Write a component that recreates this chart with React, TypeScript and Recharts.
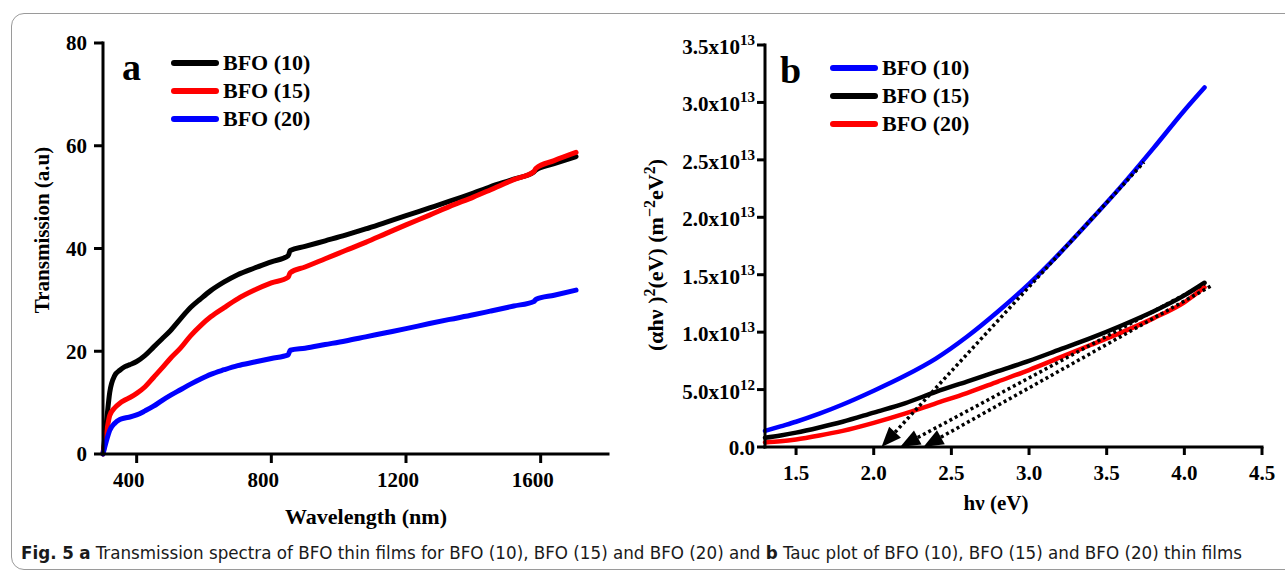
import { LineChart, Line, XAxis, YAxis, Legend, ReferenceLine, Label } from 'recharts';

// panel a: transmission spectra
const wavelength = [300, 310, 320, 335, 350, 365, 380, 400, 425, 450, 475, 500, 530, 560, 590, 620, 660, 700, 750, 800, 850, 856, 900, 960, 1020, 1080, 1140, 1200, 1270, 1330, 1400, 1450, 1520, 1580, 1586, 1640, 1705];
const trans10 = [0, 6, 12, 15.3, 16.3, 17.0, 17.4, 18.0, 19.2, 20.8, 22.4, 24.0, 26.3, 28.5, 30.2, 31.8, 33.5, 34.9, 36.2, 37.4, 38.6, 39.6, 40.4, 41.5, 42.6, 43.8, 45.1, 46.4, 47.9, 49.2, 50.8, 52.0, 53.5, 54.9, 55.3, 56.5, 57.9];
const trans15 = [0, 4, 7.5, 9.0, 9.9, 10.5, 11.0, 11.8, 13.1, 14.9, 16.7, 18.6, 20.6, 23.0, 25.0, 26.7, 28.5, 30.2, 31.9, 33.3, 34.4, 35.3, 36.4, 38.0, 39.6, 41.2, 42.9, 44.6, 46.5, 48.2, 50.0, 51.4, 53.4, 55.0, 55.6, 57.1, 58.7];
const trans20 = [0, 2.5, 4.6, 6.0, 6.7, 7.0, 7.2, 7.6, 8.4, 9.3, 10.4, 11.4, 12.5, 13.6, 14.6, 15.5, 16.4, 17.2, 17.9, 18.6, 19.3, 20.2, 20.6, 21.3, 22.0, 22.8, 23.6, 24.4, 25.4, 26.2, 27.1, 27.8, 28.8, 29.7, 30.1, 30.9, 31.9];
const wavelengthTicks = [400, 800, 1200, 1600];
const transTicks = [0, 20, 40, 60, 80];

// panel b: Tauc plot
const photonEnergy = [1.3, 1.4, 1.5, 1.65, 1.8, 2.0, 2.2, 2.4, 2.6, 2.8, 3.0, 3.2, 3.4, 3.6, 3.8, 4.0, 4.13];
const tauc10 = [1.4e12, 1.8e12, 2.2e12, 2.9e12, 3.7e12, 4.9e12, 6.2e12, 7.7e12, 9.6e12, 1.18e13, 1.42e13, 1.69e13, 1.98e13, 2.28e13, 2.6e13, 2.93e13, 3.13e13];
const tauc15 = [0.8e12, 1.0e12, 1.25e12, 1.7e12, 2.2e12, 3.0e12, 3.8e12, 4.8e12, 5.7e12, 6.6e12, 7.5e12, 8.5e12, 9.5e12, 1.06e13, 1.18e13, 1.32e13, 1.43e13];
const tauc20 = [0.4e12, 0.5e12, 0.66e12, 1.0e12, 1.4e12, 2.1e12, 2.9e12, 3.8e12, 4.7e12, 5.7e12, 6.7e12, 7.8e12, 8.9e12, 1.0e13, 1.12e13, 1.26e13, 1.39e13];
const energyTicks = [1.5, 2.0, 2.5, 3.0, 3.5, 4.0, 4.5];
const taucTicks = [0, 5e12, 1e13, 1.5e13, 2e13, 2.5e13, 3e13, 3.5e13];

// extrapolated tangents (foot on the energy axis -> upper end)
const tangentFoot = [2.05, 2.17, 2.32];
const tangentTopX = [3.74, 4.13, 4.17];
const tangentTopY = [2.48e13, 1.42e13, 1.4e13];

const transData = wavelength.map((w, i) => ({ w, b10: trans10[i], b15: trans15[i], b20: trans20[i] }));
const taucData = photonEnergy.map((e, i) => ({ e, b10: tauc10[i], b15: tauc15[i], b20: tauc20[i] }));

const serif = '"Liberation Serif", "Times New Roman", serif';
const tickStyle = { fill: '#000', fontSize: 21, fontWeight: 700, fontFamily: serif };
const axisLine = { stroke: '#000', strokeWidth: 3, strokeLinecap: 'square' as const };
const tickLine = { stroke: '#000', strokeWidth: 3 };

const makeLegend = (tag: string, order: string[], tagLeft: number, tagTop: number) => (props: any) => {
  const items = [...(props.payload || [])].sort((a: any, b: any) => order.indexOf(a.value) - order.indexOf(b.value));
  return (
    <div style={{ position: 'relative', fontFamily: serif, fontWeight: 700, color: '#000' }}>
      <span style={{ position: 'absolute', left: tagLeft, top: tagTop, fontSize: 38, lineHeight: '38px' }}>{tag}</span>
      {items.map((it: any) => (
        <div key={it.value} style={{ display: 'flex', alignItems: 'center', height: 28 }}>
          <span style={{ display: 'inline-block', width: 48, height: 6, borderRadius: 3, background: it.color }} />
          <span style={{ marginLeft: 4, fontSize: 22, lineHeight: '28px' }}>{it.value}</span>
        </div>
      ))}
    </div>
  );
};

const TaucTick = (props: any) => {
  const { x, y, payload } = props;
  const v = payload.value as number;
  if (v === 0) {
    return <text x={x} y={y} dy={8} textAnchor="end" style={tickStyle}>0.0</text>;
  }
  const exp = Math.floor(Math.log10(v) + 1e-9);
  const mant = (v / Math.pow(10, exp)).toFixed(1);
  return (
    <text x={x} y={y} dy={9} textAnchor="end" style={tickStyle}>
      {mant}x10<tspan dy={-9} fontSize={15}>{exp}</tspan>
    </text>
  );
};

const TangentArrow = (props: any) => {
  const { x1, y1, x2, y2 } = props;
  const dx = x2 - x1;
  const dy = y2 - y1;
  const len = Math.hypot(dx, dy) || 1;
  const ux = dx / len;
  const uy = dy / len;
  const head = 20;
  const half = 8;
  const bx = x1 + ux * head;
  const by = y1 + uy * head;
  const pts = `${x1},${y1} ${bx - uy * half},${by + ux * half} ${bx + uy * half},${by - ux * half}`;
  return (
    <g>
      <line x1={bx} y1={by} x2={x2} y2={y2} stroke="#000" strokeWidth={3.5} strokeDasharray="3 3" />
      <polygon points={pts} fill="#000" />
    </g>
  );
};

const TransmissionChart = () => (
  <LineChart width={640} height={540} data={transData} margin={{ top: 43, right: 32, bottom: 0, left: 0 }}>
    <XAxis dataKey="w" type="number" domain={[300, 1800]} ticks={wavelengthTicks} height={86}
      axisLine={axisLine} tickLine={tickLine} tickSize={9} tickMargin={9} tick={{ ...tickStyle, dx: -8 }}>
      <Label content={() => (
        <text x={366} y={524} textAnchor="middle" style={{ ...tickStyle, fontSize: 22 }}>Wavelength (nm)</text>
      )} />
    </XAxis>
    <XAxis xAxisId="t" orientation="top" type="number" domain={[300, 1800]} height={0} tick={false} tickLine={false} axisLine={axisLine} />
    <YAxis type="number" domain={[0, 80]} ticks={transTicks} width={103}
      axisLine={axisLine} tickLine={tickLine} tickSize={9} tickMargin={7} tick={tickStyle}>
      <Label content={() => (
        <text x={49} y={230} transform="rotate(-90 49 230)" textAnchor="middle" style={{ ...tickStyle, fontSize: 21 }}>Transmission (a.u)</text>
      )} />
    </YAxis>
    <YAxis yAxisId="r" orientation="right" type="number" domain={[0, 80]} width={0} tick={false} tickLine={false} axisLine={axisLine} />
    <Legend layout="vertical" align="center" verticalAlign="middle"
      wrapperStyle={{ left: 171, top: 49, width: 200 }}
      content={makeLegend('a', ['BFO (10)', 'BFO (15)', 'BFO (20)'], -49, -1)} />
    <Line dataKey="b10" name="BFO (10)" type="monotone" stroke="#000000" strokeWidth={5} strokeLinecap="round" dot={false} isAnimationActive={false} />
    <Line dataKey="b15" name="BFO (15)" type="monotone" stroke="#ff0000" strokeWidth={5} strokeLinecap="round" dot={false} isAnimationActive={false} />
    <Line dataKey="b20" name="BFO (20)" type="monotone" stroke="#0000ff" strokeWidth={5} strokeLinecap="round" dot={false} isAnimationActive={false} />
  </LineChart>
);

const TaucChart = () => (
  <LineChart width={645} height={540} data={taucData} margin={{ top: 45, right: 23, bottom: 0, left: 0 }}>
    <XAxis dataKey="e" type="number" domain={[1.3, 4.5]} ticks={energyTicks} height={93}
      axisLine={axisLine} tickLine={tickLine} tickSize={8} tickMargin={10} tick={tickStyle}
      tickFormatter={(v: number) => v.toFixed(1)}>
      <Label content={() => (
        <text x={356} y={510} textAnchor="middle" style={{ ...tickStyle, fontSize: 21 }}>hν (eV)</text>
      )} />
    </XAxis>
    <XAxis xAxisId="t" orientation="top" type="number" domain={[1.3, 4.5]} height={0} tick={false} tickLine={false} axisLine={axisLine} />
    <YAxis type="number" domain={[0, 3.5e13]} ticks={taucTicks} width={125}
      axisLine={axisLine} tickLine={tickLine} tickSize={8} tickMargin={2} tick={<TaucTick />}>
      <Label content={() => (
        <text x={23} y={255} transform="rotate(-90 23 255)" textAnchor="middle" style={{ ...tickStyle, fontSize: 22 }}>
          (αhν )<tspan dy={-8} fontSize={16}>2</tspan><tspan dy={8}>(eV) (m</tspan><tspan dy={-8} fontSize={16}>−2</tspan><tspan dy={8}>eV</tspan><tspan dy={-8} fontSize={16}>2</tspan><tspan dy={8}>)</tspan>
        </text>
      )} />
    </YAxis>
    <YAxis yAxisId="r" orientation="right" type="number" domain={[0, 3.5e13]} width={0} tick={false} tickLine={false} axisLine={axisLine} />
    <Legend layout="vertical" align="center" verticalAlign="middle"
      wrapperStyle={{ left: 190, top: 54, width: 200 }}
      content={makeLegend('b', ['BFO (10)', 'BFO (15)', 'BFO (20)'], -50, -3)} />
    <Line dataKey="b10" name="BFO (10)" type="monotone" stroke="#0000ff" strokeWidth={4.5} strokeLinecap="round" dot={false} isAnimationActive={false} />
    <Line dataKey="b15" name="BFO (15)" type="monotone" stroke="#000000" strokeWidth={4.5} strokeLinecap="round" dot={false} isAnimationActive={false} />
    <Line dataKey="b20" name="BFO (20)" type="monotone" stroke="#ff0000" strokeWidth={4.5} strokeLinecap="round" dot={false} isAnimationActive={false} />
    {tangentFoot.map((foot, i) => (
      <ReferenceLine key={i} ifOverflow="visible"
        segment={[{ x: foot, y: 0 }, { x: tangentTopX[i], y: tangentTopY[i] }]}
        shape={TangentArrow} />
    ))}
  </LineChart>
);

export default function App() {
  return (
    <div style={{ position: 'absolute', left: 0, top: 0, width: 1285, height: 576, background: '#fff', overflow: 'hidden' }}>
      <div style={{ position: 'absolute', left: 11, top: 13, width: 1300, height: 555, border: '1.5px solid #9a9a9a', borderRadius: 13 }} />
      <div style={{ position: 'absolute', left: 0, top: 0 }}>
        <TransmissionChart />
      </div>
      <div style={{ position: 'absolute', left: 640, top: 0 }}>
        <TaucChart />
      </div>
      <svg style={{ position: 'absolute', left: 0, top: 536 }} width={1285} height={36}>
        <text x={21} y={23} textLength={1221} lengthAdjust="spacingAndGlyphs"
          style={{ fontFamily: '"Liberation Sans Narrow", "DejaVu Sans Condensed", "Liberation Sans", sans-serif', fontSize: 17, fill: '#1a1a1a' }}>
          <tspan fontWeight={700}>Fig. 5</tspan>
          <tspan>{'  '}</tspan>
          <tspan fontWeight={700}>a</tspan>
          <tspan> Transmission spectra of BFO thin films for BFO (10), BFO (15) and BFO (20) and </tspan>
          <tspan fontWeight={700}>b</tspan>
          <tspan> Tauc plot of BFO (10), BFO (15) and BFO (20) thin films</tspan>
        </text>
      </svg>
    </div>
  );
}
